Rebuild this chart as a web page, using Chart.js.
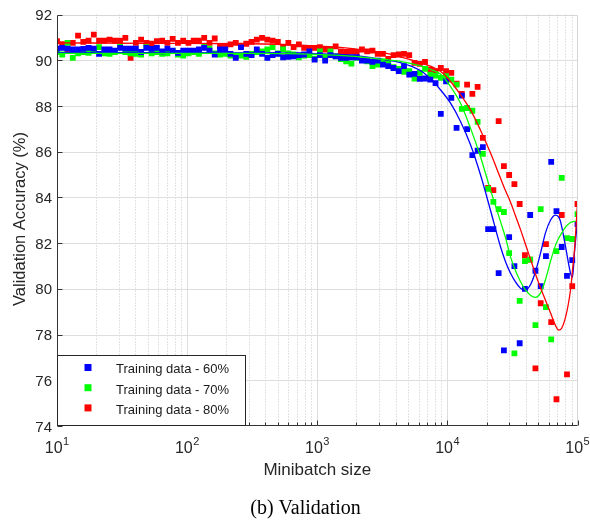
<!DOCTYPE html>
<html>
<head>
<meta charset="utf-8">
<script src="https://cdn.jsdelivr.net/npm/chart.js@4"></script>
<style>
html,body{margin:0;padding:0;background:#fff;}
#wrap{width:590px;height:521px;position:relative;}
canvas{display:block;}
</style>
</head>
<body>
<div id="wrap"><canvas id="c" width="590" height="521" style="width:590px;height:521px"></canvas></div>
<script>
// ---------------- data ----------------
const batchSizes = [
  10, 10.97, 12.04, 13.22, 14.51, 15.92, 17.48, 19.18, 21.05, 23.1,
  25.36, 27.83, 30.54, 33.52, 36.79, 40.37, 44.31, 48.63, 53.37, 58.57,
  64.28, 70.55, 77.43, 84.98, 93.26, 102.4, 112.3, 123.3, 135.3, 148.5,
  163, 178.9, 196.3, 215.4, 236.5, 259.5, 284.8, 312.6, 343.1, 376.6,
  413.3, 453.6, 497.8, 546.4, 599.7, 658.1, 722.3, 792.7, 870, 954.8,
  1048, 1150, 1262, 1385, 1520, 1668, 1831, 2009, 2205, 2420,
  2656, 2915, 3199, 3511, 3854, 4229, 4642, 5094, 5591, 6136,
  6734, 7391, 8111, 8902, 9770, 10723, 11768, 12915, 14175, 15556,
  17073, 18738, 20565, 22570, 24771, 27186, 29836, 32745, 35938, 39442,
  43288, 47508, 52140, 57224, 62803, 68926, 75646, 83022, 91116, 100000
];
const acc60 = [
  90.51, 90.54, 90.51, 90.47, 90.47, 90.50, 90.54, 90.51, 90.28, 90.47,
  90.47, 90.42, 90.54, 90.51, 90.51, 90.51, 90.36, 90.54, 90.50, 90.54,
  90.39, 90.51, 90.42, 90.32, 90.42, 90.42, 90.42, 90.47, 90.54, 90.42,
  90.25, 90.47, 90.47, 90.28, 90.10, 90.57, 90.28, 90.22, 90.47, 90.28,
  90.10, 90.22, 90.28, 90.13, 90.15, 90.17, 90.22, 90.25, 90.39, 90.03,
  90.22, 89.98, 90.22, 90.17, 90.10, 90.10, 90.13, 90.13, 89.98, 89.98,
  89.93, 89.98, 89.81, 89.74, 89.66, 89.52, 89.74, 89.37, 89.40, 89.18,
  89.20, 89.15, 89.00, 87.65, 89.08, 88.35, 87.04, 88.45, 86.99, 85.85,
  86.04, 86.20, 82.61, 82.61, 80.69, 77.31, 82.26, 80.99, 77.62, 80.00,
  83.23, 80.79, 80.12, 81.43, 85.55, 83.40, 81.83, 80.57, 81.26, 82.83
];
const acc70 = [
  90.36, 90.25, 90.76, 90.10, 90.30, 90.35, 90.32, 90.45, 90.57, 90.30,
  90.28, 90.35, 90.61, 90.36, 90.30, 90.28, 90.25, 90.57, 90.30, 90.35,
  90.28, 90.30, 90.40, 90.25, 90.20, 90.30, 90.35, 90.28, 90.61, 90.51,
  90.30, 90.25, 90.28, 90.20, 90.18, 90.20, 90.15, 90.28, 90.35, 90.39,
  90.47, 90.57, 90.30, 90.47, 90.30, 90.25, 90.13, 90.20, 90.22, 90.07,
  90.39, 90.15, 90.39, 90.17, 90.05, 89.95, 89.85, 90.10, 90.00, 89.95,
  89.74, 89.81, 89.95, 89.84, 89.70, 89.62, 89.49, 89.52, 89.20, 89.45,
  89.62, 89.37, 89.33, 89.23, 89.30, 89.15, 88.93, 87.87, 87.91, 87.79,
  87.30, 85.90, 84.37, 83.80, 83.49, 83.36, 81.56, 77.18, 79.47, 81.21,
  81.28, 78.41, 83.49, 79.20, 77.79, 81.65, 84.85, 82.22, 82.18, 83.27
];
const acc80 = [
  90.83, 90.70, 90.45, 90.76, 91.08, 90.80, 90.86, 91.12, 90.86, 90.86,
  90.90, 90.86, 90.86, 90.98, 90.10, 90.76, 90.90, 90.76, 90.72, 90.83,
  90.86, 90.76, 90.93, 90.76, 90.86, 90.76, 90.86, 90.86, 90.98, 90.76,
  90.95, 90.61, 90.61, 90.69, 90.76, 90.64, 90.72, 90.80, 90.90, 90.98,
  90.90, 90.86, 90.80, 90.57, 90.76, 90.57, 90.69, 90.54, 90.54, 90.54,
  90.57, 90.47, 90.47, 90.61, 90.39, 90.36, 90.39, 90.36, 90.47, 90.39,
  90.42, 90.28, 90.28, 90.06, 90.22, 90.25, 90.28, 90.22, 89.88, 89.84,
  89.93, 89.59, 89.52, 89.66, 89.52, 89.45, 88.98, 88.53, 88.93, 88.53,
  88.83, 86.60, 84.41, 84.32, 87.34, 85.37, 84.98, 84.58, 83.71, 81.47,
  81.28, 76.52, 79.37, 81.96, 78.54, 75.17, 83.23, 76.26, 80.12, 83.71
];
// fitted curves
const fitX = [10, 51.9, 305, 740, 1794, 3052, 4350, 6200, 7400, 8836,
  10550, 12590, 15030, 17940, 21420, 25570, 27940, 30520, 33360, 36430,
  39810, 43500, 47520, 51930, 56740, 61990, 67730, 71420, 74000, 80850,
  88360, 91500, 94820, 100000];
const fit60 = [90.33, 90.33, 90.32, 90.30, 90.22, 90.05, 89.90, 89.55, 89.20, 88.71,
  88.13, 87.33, 86.31, 85.00, 83.45, 81.85, 81.20, 80.69, 80.30, 80.03,
  79.95, 80.18, 80.75, 81.55, 82.45, 83.00, 83.22, 83.15, 82.95, 81.86,
  80.69, 80.50, 81.60, 83.00];
const fit70 = [90.30, 90.30, 90.30, 90.28, 90.18, 90.05, 89.95, 89.75, 89.60, 89.40,
  88.86, 88.13, 87.04, 85.79, 84.33, 82.95, 82.25, 81.41, 80.80, 80.32,
  79.95, 79.72, 79.63, 79.81, 80.40, 81.20, 81.90, 82.20, 82.35, 82.70,
  82.90, 82.93, 82.95, 82.95];
const fit80 = [90.76, 90.74, 90.72, 90.66, 90.52, 90.35, 90.15, 89.90, 89.74, 89.52,
  89.08, 88.50, 87.84, 86.95, 85.95, 84.85, 84.30, 83.80, 83.20, 82.60,
  81.95, 81.30, 80.65, 80.05, 79.50, 78.95, 78.40, 78.20, 78.22, 78.75,
  79.95, 80.80, 81.70, 83.75];

const seriesLabels = ['Training data - 60%', 'Training data - 70%', 'Training data - 80%'];
const seriesColors = ['#0000ff', '#00ff00', '#ff0000'];
const yTicks = [74, 76, 78, 80, 82, 84, 86, 88, 90, 92];
const xMajorTicks = [10, 100, 1000, 10000, 100000];
const xMajorExps = ['1', '2', '3', '4', '5'];
const xMinorMults = [2, 3, 4, 5, 6, 7, 8, 9];
const xLabel = 'Minibatch size';
const yLabel = 'Validation Accuracy (%)';
const caption = '(b) Validation';

// ---------------- helpers ----------------
const pts = (xs, ys) => xs.map((x, i) => ({x: x, y: ys[i]}));
const SANS = '"Liberation Sans", Arial, Helvetica, sans-serif';
const SERIF = '"Liberation Serif", "Times New Roman", serif';
const AXIS = '#333333';

const framePlugin = {
  id: 'frame',
  beforeDatasetsDraw(chart) {
    const {ctx, chartArea: a, scales} = chart;
    const xs = scales.x, ys = scales.y;
    ctx.save();
    ctx.strokeStyle = '#c6c6c6';
    ctx.lineWidth = 1;
    ctx.setLineDash([1, 2]);
    for (let d = 0; d < xMajorTicks.length - 1; d++) {
      for (const m of xMinorMults) {
        const px = Math.round(xs.getPixelForValue(xMajorTicks[d] * m)) + 0.5;
        ctx.beginPath(); ctx.moveTo(px, a.top); ctx.lineTo(px, a.bottom); ctx.stroke();
      }
    }
    ctx.setLineDash([]);
    ctx.strokeStyle = '#dedede';
    ctx.lineWidth = 1;
    for (let i = 1; i < xMajorTicks.length - 1; i++) {
      const px = Math.round(xs.getPixelForValue(xMajorTicks[i])) + 0.5;
      ctx.beginPath(); ctx.moveTo(px, a.top); ctx.lineTo(px, a.bottom); ctx.stroke();
    }
    for (let i = 1; i < yTicks.length - 1; i++) {
      const py = Math.round(ys.getPixelForValue(yTicks[i])) + 0.5;
      ctx.beginPath(); ctx.moveTo(a.left, py); ctx.lineTo(a.right, py); ctx.stroke();
    }
    ctx.restore();
  },
  afterDatasetsDraw(chart) {
    const {ctx, chartArea: a, scales} = chart;
    const xs = scales.x, ys = scales.y;
    ctx.save();
    const L = Math.round(a.left) + 0.5, R = Math.round(a.right) - 0.5;
    const T = Math.round(a.top) + 0.5, B = Math.round(a.bottom) - 0.5;
    ctx.strokeStyle = '#d6d6d6';
    ctx.lineWidth = 1;
    ctx.beginPath(); ctx.moveTo(L, T); ctx.lineTo(R, T); ctx.lineTo(R, B); ctx.stroke();
    ctx.strokeStyle = AXIS;
    ctx.beginPath(); ctx.moveTo(L, T); ctx.lineTo(L, B); ctx.lineTo(R, B); ctx.stroke();
    for (const v of yTicks) {
      const py = Math.round(ys.getPixelForValue(v)) + 0.5;
      ctx.beginPath(); ctx.moveTo(L, py); ctx.lineTo(L + 5, py); ctx.stroke();
    }
    for (let d = 0; d < xMajorTicks.length; d++) {
      const px = Math.round(xs.getPixelForValue(xMajorTicks[d])) + 0.5;
      ctx.beginPath(); ctx.moveTo(px, B); ctx.lineTo(px, B - 5); ctx.stroke();
      if (d < xMajorTicks.length - 1) {
        for (const m of xMinorMults) {
          const qx = Math.round(xs.getPixelForValue(xMajorTicks[d] * m)) + 0.5;
          ctx.beginPath(); ctx.moveTo(qx, B); ctx.lineTo(qx, B - 3); ctx.stroke();
        }
      }
    }
    ctx.fillStyle = '#262626';
    ctx.font = '15px ' + SANS;
    ctx.textAlign = 'right';
    ctx.textBaseline = 'middle';
    for (const v of yTicks) {
      ctx.fillText(String(v), 52, ys.getPixelForValue(v) + 1.5);
    }
    ctx.textBaseline = 'alphabetic';
    ctx.textAlign = 'left';
    for (let i = 0; i < xMajorTicks.length; i++) {
      const px = xs.getPixelForValue(xMajorTicks[i]);
      ctx.font = '16px ' + SANS;
      const wb = ctx.measureText('10').width;
      ctx.font = '11px ' + SANS;
      const we = ctx.measureText(xMajorExps[i]).width;
      const x0 = px - (wb + we + 0.5) / 2;
      ctx.font = '16px ' + SANS;
      ctx.fillText('10', x0, 452.5);
      ctx.font = '11px ' + SANS;
      ctx.fillText(xMajorExps[i], x0 + wb + 0.5, 445);
    }
    ctx.font = '17px ' + SANS;
    ctx.textAlign = 'center';
    ctx.fillText(xLabel, (a.left + a.right) / 2, 474.5);
    ctx.save();
    ctx.translate(25, 219);
    ctx.rotate(-Math.PI / 2);
    ctx.font = '16.5px ' + SANS;
    ctx.fillText(yLabel, 0, 0);
    ctx.restore();
    ctx.fillStyle = '#ffffff';
    ctx.fillRect(58, 356, 187, 69);
    ctx.strokeStyle = '#262626';
    ctx.lineWidth = 1;
    ctx.strokeRect(57.5, 355.5, 188, 70);
    ctx.font = '13px ' + SANS;
    ctx.textAlign = 'left';
    ctx.textBaseline = 'alphabetic';
    for (let i = 0; i < seriesLabels.length; i++) {
      const cy = 367.5 + i * 20.2;
      ctx.fillStyle = seriesColors[i];
      ctx.fillRect(84.5, cy - 3.5, 7, 7);
      ctx.fillStyle = '#1a1a1a';
      ctx.fillText(seriesLabels[i], 116, cy + 5.8);
    }
    ctx.fillStyle = '#000000';
    ctx.font = '20px ' + SERIF;
    ctx.textAlign = 'center';
    ctx.fillText(caption, 305.5, 514);
    ctx.restore();
  }
};

const lineDs = (ys, color, order) => ({
  type: 'line', data: pts(fitX, ys), borderColor: color, borderWidth: 1.3,
  pointRadius: 0, fill: false, cubicInterpolationMode: 'monotone', order: order
});
const pointDs = (label, ys, color, order) => ({
  type: 'scatter', label: label, data: pts(batchSizes, ys), showLine: false,
  pointStyle: 'rect', pointRadius: 4.1, pointBorderWidth: 0,
  pointBackgroundColor: color, backgroundColor: color, borderColor: color, order: order
});

new Chart(document.getElementById('c'), {
  type: 'scatter',
  data: {
    datasets: [
      pointDs(seriesLabels[0], acc60, seriesColors[0], 4),
      pointDs(seriesLabels[1], acc70, seriesColors[1], 5),
      pointDs(seriesLabels[2], acc80, seriesColors[2], 6),
      lineDs(fit60, seriesColors[0], 3),
      lineDs(fit70, seriesColors[1], 2),
      lineDs(fit80, seriesColors[2], 1)
    ]
  },
  options: {
    responsive: false,
    devicePixelRatio: 1,
    animation: false,
    layout: {padding: {left: 57, right: 12.5, top: 14.5, bottom: 95}},
    scales: {
      x: {type: 'logarithmic', min: 10, max: 100000, display: false},
      y: {type: 'linear', min: 74, max: 92, display: false}
    },
    plugins: {legend: {display: false}, tooltip: {enabled: false}}
  },
  plugins: [framePlugin]
});
</script>
</body>
</html>
